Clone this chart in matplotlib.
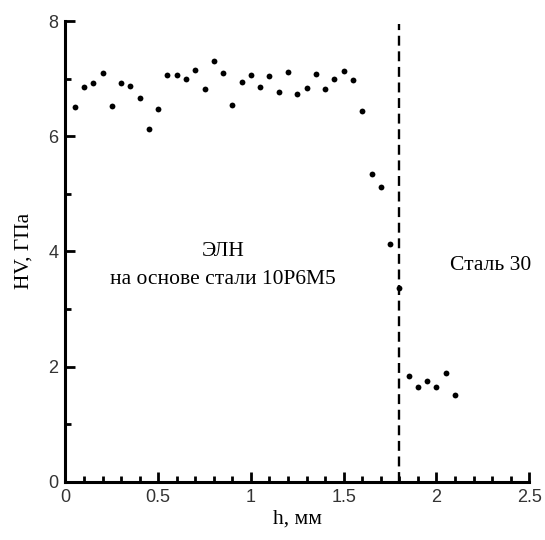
import matplotlib
matplotlib.use("Agg")
import matplotlib.pyplot as plt
import numpy as np
from matplotlib.ticker import MultipleLocator

h_mm = [0.05, 0.10, 0.15, 0.20, 0.25, 0.30, 0.35, 0.40, 0.45, 0.50,
        0.55, 0.60, 0.65, 0.70, 0.75, 0.80, 0.85, 0.90, 0.95, 1.00,
        1.05, 1.10, 1.15, 1.20, 1.25, 1.30, 1.35, 1.40, 1.45, 1.50,
        1.55, 1.60, 1.65, 1.70, 1.75, 1.80, 1.85, 1.90, 1.95, 2.00,
        2.05, 2.10]
hv_gpa = [6.51, 6.86, 6.92, 7.10, 6.53, 6.92, 6.88, 6.66, 6.12, 6.48,
          7.07, 7.06, 7.00, 7.15, 6.82, 7.31, 7.10, 6.55, 6.95, 7.06,
          6.86, 7.04, 6.77, 7.11, 6.73, 6.84, 7.08, 6.82, 7.00, 7.13,
          6.97, 6.44, 5.35, 5.11, 4.13, 3.37, 1.84, 1.64, 1.74, 1.64,
          1.88, 1.50]
boundary = 1.8

fig = plt.figure(figsize=(5.45, 5.40), dpi=100)
ax = fig.add_axes([0.120, 0.108, 0.851, 0.853])

ax.plot(h_mm, hv_gpa, 'o', color='black', markersize=4.2, markeredgewidth=0)
ax.plot([boundary, boundary], [0, 7.95], color='black', lw=1.7,
        dashes=(4.2, 2.4))

ax.set_xlim(0, 2.5)
ax.set_ylim(0, 8)
ax.xaxis.set_minor_locator(MultipleLocator(0.1))
ax.yaxis.set_major_locator(MultipleLocator(2))
ax.yaxis.set_minor_locator(MultipleLocator(1))
ax.set_xticks([0, 0.5, 1, 1.5, 2, 2.5])
ax.set_xticklabels(['0', '0.5', '1', '1.5', '2', '2.5'])

for s in ['top', 'right']:
    ax.spines[s].set_visible(False)
for s in ['left', 'bottom']:
    ax.spines[s].set_linewidth(2.2)

ax.tick_params(which='major', direction='in', length=7.5, width=2.0,
               labelsize=13, pad=5)
ax.tick_params(which='minor', direction='in', length=4.5, width=2.0)
for lab in ax.get_xticklabels() + ax.get_yticklabels():
    lab.set_family('Liberation Sans')
    lab.set_color('#333333')

serif = 'Liberation Serif'
ax.set_xlabel('h, мм', family=serif, fontsize=15.5, labelpad=3)
ax.set_ylabel('HV, ГПа', family=serif, fontsize=15.5, labelpad=11)

ax.text(0.85, 4.0, 'ЭЛН', family=serif, fontsize=15.5,
        ha='center', va='center')
ax.text(0.85, 3.52, 'на основе стали 10Р6М5', family=serif, fontsize=15.5,
        ha='center', va='center')
ax.text(2.29, 3.75, 'Сталь 30', family=serif, fontsize=15.5,
        ha='center', va='center')

fig.savefig('out.png', dpi=100)
